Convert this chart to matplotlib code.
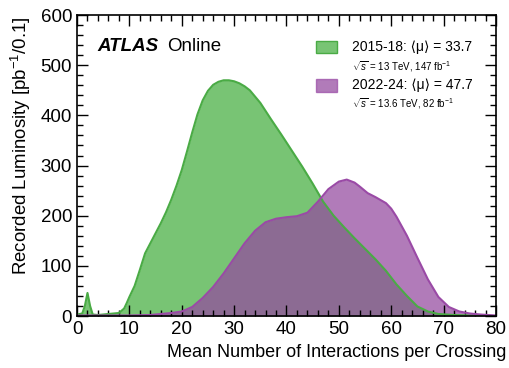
import numpy as np
import matplotlib
matplotlib.use("Agg")
import matplotlib.pyplot as plt
from matplotlib.patches import Rectangle
from matplotlib.ticker import MultipleLocator

plt.rcParams['font.family'] = ['Liberation Sans', 'DejaVu Sans']
plt.rcParams['mathtext.fontset'] = 'custom'
plt.rcParams['mathtext.rm'] = 'Liberation Sans'
plt.rcParams['mathtext.it'] = 'Liberation Sans:italic'

# 2015-18 pile-up distribution
mu_run2 = [0, 1, 1.5, 2, 2.5, 3, 4, 6, 8, 9, 9.5, 10, 11, 12, 13, 14, 15, 16, 17, 18, 19, 20,
           21, 22, 23, 24, 25, 26, 27, 28, 29, 30, 31, 32, 33, 35, 37, 39, 41, 43, 45, 47, 49,
           51, 53, 55, 57, 59, 61, 63, 65, 67, 69, 72, 75, 80]
lumi_run2 = [3, 5, 20, 46, 20, 3, 2, 4, 6, 15, 26, 38, 60, 92, 125, 145, 165, 185, 207, 232, 260, 291,
             328, 366, 402, 430, 449, 461, 467, 470, 470, 468, 464, 458, 450, 425, 393, 362, 330, 298, 264, 228, 200,
             177, 155, 134, 113, 90, 63, 40, 19, 9, 4, 2, 1, 0]

# 2022-24 pile-up distribution
mu_run3 = [0, 10, 14, 16, 18, 20, 22, 24, 26, 28, 30, 32, 34, 36, 38, 40, 42, 44, 46, 48,
           50, 51.5, 53, 54, 55.5, 57, 59, 60, 61, 63, 65, 67, 69, 71, 73, 75, 77, 80]
lumi_run3 = [1, 1, 2, 4, 6, 9, 18, 36, 58, 85, 115, 145, 170, 187, 194, 197, 199, 206, 228, 253,
             268, 272, 266, 258, 245, 237, 225, 214, 198, 160, 116, 73, 38, 18, 9, 5, 3, 1]

green_fill = '#78c474'
green_edge = '#4aab45'
purple_fill = '#944a9f'
purple_edge = '#9a4aa6'

fig = plt.figure(figsize=(5.1, 3.68), dpi=100)
ax = fig.add_axes([0.151, 0.1413, 0.8215, 0.8177])

ax.fill_between(mu_run2, lumi_run2, color=green_fill, lw=0)
ax.plot(mu_run2, lumi_run2, color=green_edge, lw=1.5)
ax.fill_between(mu_run3, lumi_run3, color=purple_fill, alpha=0.73, lw=0)
ax.plot(mu_run3, lumi_run3, color=purple_edge, lw=1.5)

ax.set_xlim(0, 80)
ax.set_ylim(0, 600)
ax.xaxis.set_major_locator(MultipleLocator(10))
ax.xaxis.set_minor_locator(MultipleLocator(2))
ax.yaxis.set_major_locator(MultipleLocator(100))
ax.yaxis.set_minor_locator(MultipleLocator(20))
ax.tick_params(which='both', direction='in', top=True, right=True, labelsize=13.5, width=1)
ax.tick_params(which='major', length=8)
ax.tick_params(which='minor', length=4)
for s in ax.spines.values():
    s.set_linewidth(1.2)

ax.set_xlabel('Mean Number of Interactions per Crossing', fontsize=13, ha='right')
ax.xaxis.set_label_coords(1.024, -0.093)
ax.set_ylabel(r'Recorded Luminosity [pb$^{-1}$/0.1]', fontsize=13.4)
ax.yaxis.set_label_coords(-0.106, 0.565)

ax.text(0.048, 0.894, 'ATLAS', transform=ax.transAxes, fontsize=13.5,
        fontweight='bold', fontstyle='italic', va='center')
ax.text(0.215, 0.894, 'Online', transform=ax.transAxes, fontsize=13.5, va='center')

# legend drawn by hand
ax.add_patch(Rectangle((0.570, 0.873), 0.050, 0.042, transform=ax.transAxes,
                       facecolor=green_fill, edgecolor=green_edge, lw=1))
ax.add_patch(Rectangle((0.570, 0.746), 0.050, 0.042, transform=ax.transAxes,
                       facecolor=purple_fill, alpha=0.73, edgecolor=purple_edge, lw=1))
ax.text(0.656, 0.894, '2015-18: ⟨μ⟩ = 33.7', transform=ax.transAxes, fontsize=10, va='center')
ax.text(0.656, 0.830, r'$\sqrt{s}$ = 13 TeV, 147 fb$^{-1}$', transform=ax.transAxes,
        fontsize=7, va='center')
ax.text(0.656, 0.767, '2022-24: ⟨μ⟩ = 47.7', transform=ax.transAxes, fontsize=10, va='center')
ax.text(0.656, 0.706, r'$\sqrt{s}$ = 13.6 TeV, 82 fb$^{-1}$', transform=ax.transAxes,
        fontsize=7, va='center')

fig.savefig('out.png', dpi=100)
